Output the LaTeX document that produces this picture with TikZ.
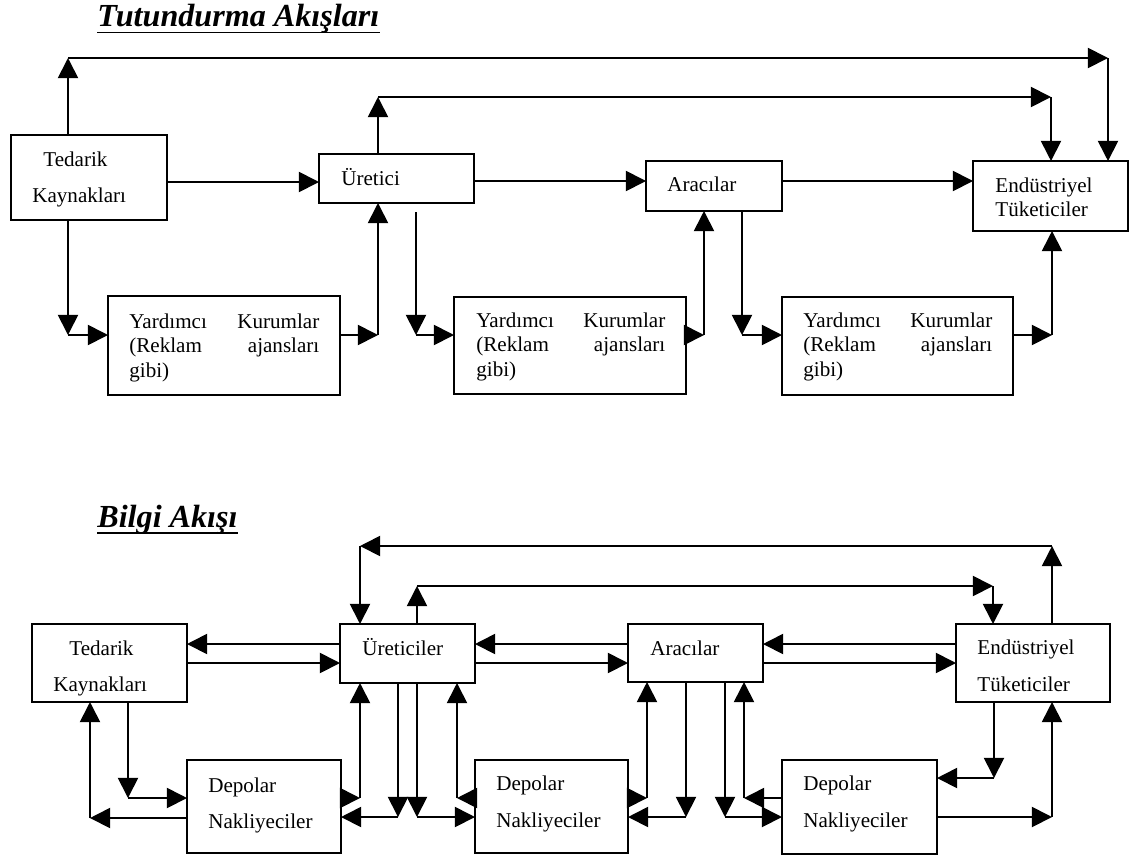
\documentclass[tikz,border=0pt]{standalone}
\usepackage{fontspec}
\setmainfont{Liberation Serif}
\usetikzlibrary{arrows.meta,fit}
\begin{document}
\begin{tikzpicture}[x=0.02cm,y=-0.02cm,
  box/.style={draw, line width=1pt, inner sep=0pt, outer sep=0pt},
  txt/.style={anchor=base west, inner sep=0pt, font=\fontsize{12}{14}\selectfont},
  ttl/.style={anchor=base west, inner sep=0pt, font=\fontsize{18.3}{22}\selectfont\bfseries\itshape},
  arr/.style={line width=1pt, -{Triangle[length=11.5pt,width=11.5pt]}},
  uline/.style={line width=1.1pt}]
\useasboundingbox (0,0) rectangle (1131,859);

% ---------------- Titles ----------------
\node[ttl] (title1) at (97,26) {Tutundurma Akışları};
\coordinate (u1) at (0,32.5);
\draw[uline] (title1.west |- u1) -- (title1.east |- u1);
\node[ttl] (title2) at (97,527) {Bilgi Akışı};
\coordinate (u2) at (0,533);
\draw[uline] (title2.west |- u2) -- (title2.east |- u2);

% ---------------- Top diagram boxes ----------------
\node[box, fit={(11,135)(167,220)}] (ted1) {};
\node[box, fit={(319,154)(474,203)}] (ur1) {};
\node[box, fit={(646,161)(782,211)}] (ar1) {};
\node[box, fit={(973,161)(1128,231)}] (end1) {};
\node[box, fit={(108,296)(340,395)}] (y1) {};
\node[box, fit={(454,297)(686,394)}] (y2) {};
\node[box, fit={(782,297)(1013,395)}] (y3) {};

\node[txt] (ted1a) at (43,166) {Tedarik};
\node[txt] (ted1b) at (32,202) {Kaynakları};
\node[txt] (ur1t) at (341,185) {Üretici};
\node[txt] (ar1t) at (667,191) {Aracılar};
\node[txt] (end1a) at (995,192) {Endüstriyel};
\node[txt] (end1b) at (995,216) {Tüketiciler};

\node[txt] (y1a) at (129,328) {\makebox[3.8cm][s]{Yardımcı Kurumlar}};
\node[txt] (y1b) at (129,352) {\makebox[3.8cm][s]{(Reklam ajansları}};
\node[txt] (y1c) at (129,377) {gibi)};
\node[txt] (y2a) at (476,327) {\makebox[3.78cm][s]{Yardımcı Kurumlar}};
\node[txt] (y2b) at (476,351) {\makebox[3.78cm][s]{(Reklam ajansları}};
\node[txt] (y2c) at (476,376) {gibi)};
\node[txt] (y3a) at (803,327) {\makebox[3.78cm][s]{Yardımcı Kurumlar}};
\node[txt] (y3b) at (803,351) {\makebox[3.78cm][s]{(Reklam ajansları}};
\node[txt] (y3c) at (803,376) {gibi)};

% ---------------- Top diagram connectors ----------------
\coordinate (a1) at (68,58); \coordinate (a2) at (1108,58);
\draw[arr] (ted1.north -| a1) -- (a1);
\draw[arr] (a1) -- (a2);
\draw[arr] (a2) -- (end1.north -| a2);

\coordinate (b1) at (378,97); \coordinate (b2) at (1051,97);
\draw[arr] (ur1.north -| b1) -- (b1);
\draw[arr] (b1) -- (b2);
\draw[arr] (b2) -- (end1.north -| b2);

\coordinate (c1) at (0,182); \coordinate (c2) at (0,181);
\draw[arr] (ted1.east |- c1) -- (ur1.west |- c1);
\draw[arr] (ur1.east |- c2) -- (ar1.west |- c2);
\draw[arr] (ar1.east |- c2) -- (end1.west |- c2);

\coordinate (d1) at (68,335);
\draw[arr] (ted1.south -| d1) -- (d1);
\draw[arr] (d1) -- (y1.west |- d1);
\coordinate (d2) at (378,335);
\draw[arr] (y1.east |- d2) -- (d2);
\draw[arr] (d2) -- (ur1.south -| d2);
\coordinate (d3s) at (416,212); \coordinate (d3) at (416,335);
\draw[arr] (d3s) -- (d3);
\draw[arr] (d3) -- (y2.west |- d3);
\coordinate (d4) at (704,335);
\draw[arr] (y2.east |- d4) -- (d4);
\draw[arr] (d4) -- (ar1.south -| d4);
\coordinate (d5) at (742,335);
\draw[arr] (ar1.south -| d5) -- (d5);
\draw[arr] (d5) -- (y3.west |- d5);
\coordinate (d6) at (1052,335);
\draw[arr] (y3.east |- d6) -- (d6);
\draw[arr] (d6) -- (end1.south -| d6);

% ---------------- Bottom diagram boxes ----------------
\node[box, fit={(32,624)(187,702)}] (ted2) {};
\node[box, fit={(340,624)(475,683)}] (ur2) {};
\node[box, fit={(628,624)(763,682)}] (ar2) {};
\node[box, fit={(956,624)(1110,702)}] (end2) {};
\node[box, fit={(187,760)(341,853)}] (dp1) {};
\node[box, fit={(475,760)(628,853)}] (dp2) {};
\node[box, fit={(782,760)(937,854)}] (dp3) {};

\node[txt] (ted2a) at (69,655) {Tedarik};
\node[txt] (ted2b) at (53,691) {Kaynakları};
\node[txt] (ur2t) at (362,655) {Üreticiler};
\node[txt] (ar2t) at (650,655) {Aracılar};
\node[txt] (end2a) at (977,654) {Endüstriyel};
\node[txt] (end2b) at (977,691) {Tüketiciler};
\node[txt] (dp1a) at (208,792) {Depolar};
\node[txt] (dp1b) at (208,828) {Nakliyeciler};
\node[txt] (dp2a) at (496,790) {Depolar};
\node[txt] (dp2b) at (496,827) {Nakliyeciler};
\node[txt] (dp3a) at (803,790) {Depolar};
\node[txt] (dp3b) at (803,827) {Nakliyeciler};

% ---------------- Bottom diagram connectors ----------------
\coordinate (e1) at (1052,546); \coordinate (e2) at (360,546);
\draw[arr] (end2.north -| e1) -- (e1);
\draw[arr] (e1) -- (e2);
\draw[arr] (e2) -- (ur2.north -| e2);

\coordinate (f1) at (417,586); \coordinate (f2) at (993,586);
\draw[arr] (ur2.north -| f1) -- (f1);
\draw[arr] (f1) -- (f2);
\draw[arr] (f2) -- (end2.north -| f2);

\coordinate (g1) at (0,644); \coordinate (g2) at (0,663);
\draw[arr] (ur2.west |- g1) -- (ted2.east |- g1);
\draw[arr] (ted2.east |- g2) -- (ur2.west |- g2);
\draw[arr] (ar2.west |- g1) -- (ur2.east |- g1);
\draw[arr] (ur2.east |- g2) -- (ar2.west |- g2);
\draw[arr] (end2.west |- g1) -- (ar2.east |- g1);
\draw[arr] (ar2.east |- g2) -- (end2.west |- g2);

% Tedarik / Depolar 1
\coordinate (h1) at (128,798);
\draw[arr] (ted2.south -| h1) -- (h1);
\draw[arr] (h1) -- (dp1.west |- h1);
\coordinate (h2) at (90,818);
\draw[arr] (dp1.west |- h2) -- (h2);
\draw[arr] (h2) -- (ted2.south -| h2);

% Depolar 1 / Ureticiler
\coordinate (h3) at (360,798);
\draw[arr] (dp1.east |- h3) -- (h3);
\draw[arr] (h3) -- (ur2.south -| h3);
\coordinate (h4) at (398,817);
\draw[arr] (ur2.south -| h4) -- (h4);
\draw[arr] (h4) -- (dp1.east |- h4);

% Ureticiler / Depolar 2
\coordinate (h5) at (417,817);
\draw[arr] (ur2.south -| h5) -- (h5);
\draw[arr] (h5) -- (dp2.west |- h5);
\coordinate (h6) at (457,798);
\draw[arr] (dp2.west |- h6) -- (h6);
\draw[arr] (h6) -- (ur2.south -| h6);

% Depolar 2 / Aracilar
\coordinate (h7) at (647,798);
\draw[arr] (dp2.east |- h7) -- (h7);
\draw[arr] (h7) -- (ar2.south -| h7);
\coordinate (h8) at (686,817);
\draw[arr] (ar2.south -| h8) -- (h8);
\draw[arr] (h8) -- (dp2.east |- h8);

% Aracilar / Depolar 3
\coordinate (h9) at (725,817);
\draw[arr] (ar2.south -| h9) -- (h9);
\draw[arr] (h9) -- (dp3.west |- h9);
\coordinate (h10) at (744,798);
\draw[arr] (dp3.west |- h10) -- (h10);
\draw[arr] (h10) -- (ar2.south -| h10);

% Depolar 3 / Endustriyel
\coordinate (h11) at (994,778);
\draw[arr] (end2.south -| h11) -- (h11);
\draw[arr] (h11) -- (dp3.east |- h11);
\coordinate (h12) at (1052,817);
\draw[arr] (dp3.east |- h12) -- (h12);
\draw[arr] (h12) -- (end2.south -| h12);
\end{tikzpicture}
\end{document}
